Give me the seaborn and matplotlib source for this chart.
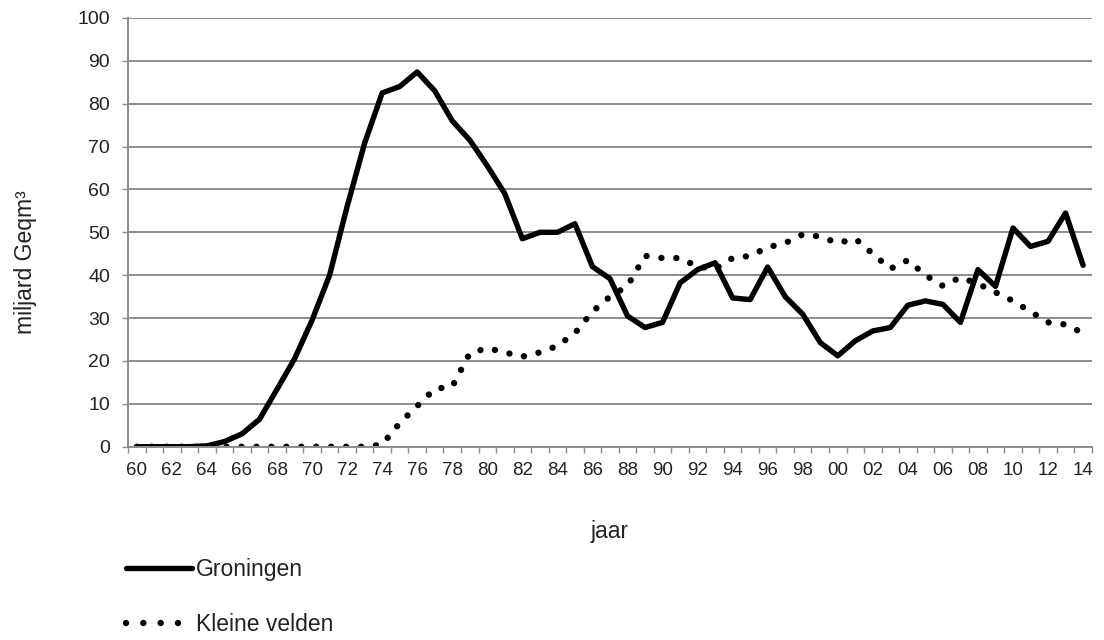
import numpy as np
import pandas as pd
import matplotlib
matplotlib.use("Agg")
import matplotlib.pyplot as plt
from matplotlib.lines import Line2D
import seaborn as sns

years = list(range(1960, 2015))
year_labels = [f"{y % 100:02d}" for y in years]

groningen = [0, 0, 0, 0, 0.2, 1.2, 3, 6.4, 13.4, 20.5, 29.5, 40, 56, 70.8, 82.5, 84,
             87.4, 83, 76, 71.5, 65.5, 59, 48.5, 50, 50, 52, 42, 39.2, 30.5, 27.8,
             29, 38.2, 41.3, 42.9, 34.7, 34.3, 41.9, 35, 30.9, 24.3, 21.2, 24.7, 27,
             27.8, 33, 34, 33.2, 29, 41.3, 37.4, 51, 46.7, 47.9, 54.5, 42.3]
kleine_velden = [0, 0, 0, 0, 0, 0, 0, 0, 0, 0, 0, 0, 0, 0, 0.5, 5.5, 9.5, 13.5, 14,
                 21.8, 23, 22, 21, 22, 23.5, 26.5, 31.5, 35, 37.5, 44.5, 44, 44, 42,
                 41.5, 44, 44.5, 46.5, 47.5, 49.5, 49, 47.5, 48.5, 45, 41.5, 43.5, 40,
                 37.5, 39.5, 38, 36, 34, 31.5, 29, 28.5, 26.5]
series_names = ["Groningen", "Kleine velden"]

df = pd.DataFrame({"pos": np.arange(len(years)), series_names[0]: groningen,
                   series_names[1]: kleine_velden})

sns.set_theme(style="white")
plt.rcParams["font.family"] = ["Liberation Sans", "DejaVu Sans"]

fig = plt.figure(figsize=(11.04, 6.4), dpi=100)
ax = fig.add_axes([0.116, 0.302, 0.873, 0.670])

grid_c = "#8c8c8c"
text_c = "#222222"
ax.set_ylim(0, 100)
ax.set_yticks(np.arange(0, 101, 10))
ax.yaxis.grid(True, color=grid_c, linewidth=1.4)
ax.set_axisbelow(True)

solid_kw = dict(color="black", linewidth=3.9, solid_joinstyle="round",
                solid_capstyle="round")
dot_kw = dict(color="black", linewidth=4.6, linestyle=(0, (0.01, 2.33)),
              dash_capstyle="round")

sns.lineplot(data=df, x="pos", y=series_names[0], ax=ax, legend=False, **solid_kw)
sns.lineplot(data=df, x="pos", y=series_names[1], ax=ax, legend=False, **dot_kw)

n = len(years)
ax.set_xlim(-0.5, n - 0.5)
ax.set_xticks(np.arange(-0.5, n, 1.0))
ax.set_xticklabels([])
ax.set_xticks(np.arange(0, n, 2), minor=True)
ax.set_xticklabels(year_labels[::2], minor=True)
ax.tick_params(axis="x", which="major", direction="out", length=4, width=1.0,
               color=grid_c, bottom=True)
ax.tick_params(axis="x", which="minor", length=0, labelsize=13.5, pad=11,
               labelcolor=text_c)
ax.tick_params(axis="y", direction="out", length=4, width=1.0, color=grid_c,
               left=True, labelsize=14, labelcolor=text_c, pad=9)

for s in ["top", "right"]:
    ax.spines[s].set_visible(False)
for s in ["left", "bottom"]:
    ax.spines[s].set_color(grid_c)
    ax.spines[s].set_linewidth(1.4)

ax.set_xlabel("jaar", fontsize=16.5, color=text_c)
ax.xaxis.set_label_coords(0.5, -0.170)
ax.set_ylabel("miljard Geqm³", fontsize=16.5, color=text_c)
ax.yaxis.set_label_coords(-0.094, 0.43)

handles = [Line2D([], [], **solid_kw),
           Line2D([], [], color="black", linewidth=4.6, linestyle=(0, (0.01, 2.7)),
                  dash_capstyle="round")]
ax.legend(handles, series_names, loc="upper left", bbox_to_anchor=(0.106, 0.143),
          bbox_transform=fig.transFigure, frameon=False, fontsize=16.5,
          handlelength=2.85, handletextpad=0.2, labelspacing=1.4,
          borderaxespad=0, labelcolor=text_c)

fig.savefig("out.png", dpi=100)
